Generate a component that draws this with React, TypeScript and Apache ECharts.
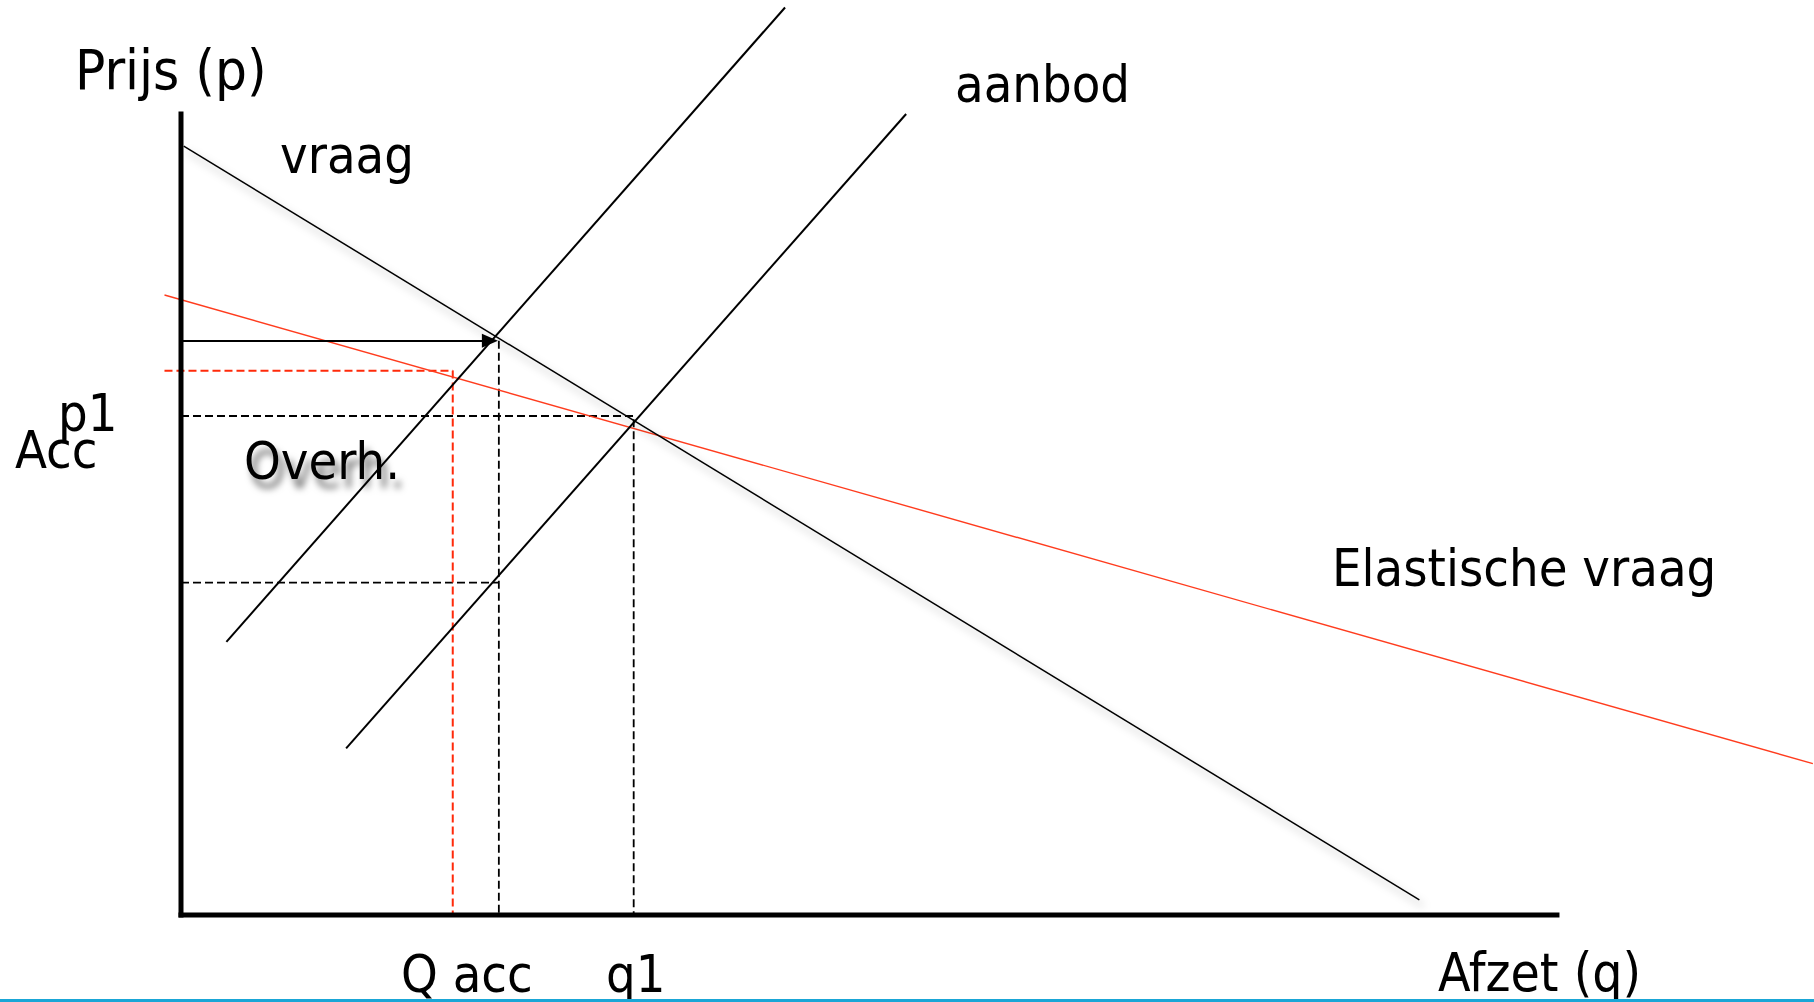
import React, { useEffect, useRef } from "react";
import * as echarts from "echarts";

// ---- Data (quantity q on x, price p on y; axes drawn over 0..100) ----
const vraag: number[][] = [[0.2, 96.0], [90.0, 1.9]];
const elastischeVraag: number[][] = [[-1.2, 77.4], [118.6, 18.9]];
const aanbodMetAcc: number[][] = [[3.3, 34.1], [43.9, 113.3]];
const aanbod: number[][] = [[12.0, 20.8], [52.7, 100.0]];

const q1 = 32.9;
const p1 = 62.3;
const qAcc = 23.1;
const pAcc = 71.7;
const pProducent = 41.5;
const qElastisch = 19.75;
const pElastisch = 67.95;
const roodStart = -1.2;
const pijlEinde = 22.45;

const asLengte = 100;
const axisNames = ["Prijs (p)", "Afzet (q)"];
const xTickLabels = ["Q acc", "q1"];
const yTickLabels = ["p1", "Acc"];
const curveLabels = ["vraag", "aanbod", "Elastische vraag", "Overh."];

const FONT = "'DejaVu Sans Condensed', 'DejaVu Sans', sans-serif";
const FS = 52;

function txt(text: string, x: number, y: number, extra: any = {}) {
  return {
    type: "text",
    x,
    y,
    silent: true,
    style: {
      text,
      fill: "#000",
      fontSize: FS,
      fontFamily: FONT,
      align: "left",
      verticalAlign: "middle",
      ...extra,
    },
  };
}

export default function App() {
  const ref = useRef<HTMLDivElement>(null);
  useEffect(() => {
    if (!ref.current) return;
    const chart = echarts.init(ref.current, undefined, { renderer: "svg" });
    const baseLine = (name: string, data: number[][], style: any, z = 2) => ({
      name,
      type: "line",
      data,
      symbol: "none",
      showSymbol: false,
      clip: false,
      silent: true,
      z,
      lineStyle: style,
    });
    const dash = { type: [8, 4], width: 1.8, color: "#000" };
    const redDash = { type: [8, 4], width: 2, color: "#ff2a0a" };
    const axisStyle = { color: "#000", width: 5, cap: "square" };
    // x: -10..118.68 at 13.76 px/unit => 0 at 181px; y: 0..100 over 801px
    chart.setOption({
      animation: false,
      backgroundColor: "#fff",
      grid: { left: 43.4, top: 114, width: 1770.6, height: 801 },
      xAxis: {
        type: "value",
        min: -10,
        max: 118.68,
        show: false,
      },
      yAxis: {
        type: "value",
        min: 0,
        max: 100,
        show: false,
      },
      series: [
        baseLine("p1 hulplijn", [[0, p1], [q1, p1], [q1, 0]], dash, 1),
        baseLine("producentenprijs", [[0, pProducent], [qAcc, pProducent]], dash, 1),
        {
          ...baseLine("Q acc hulplijn", [[qAcc, pAcc], [qAcc, 0]], dash, 1),
          markLine: {
            silent: true,
            symbol: ["none", "triangle"],
            symbolSize: [14, 16],
            label: { show: false },
            lineStyle: { color: "#000", width: 2, type: "solid" },
            data: [[{ coord: [0, pAcc] }, { coord: [pijlEinde, pAcc] }]],
          },
        },
        baseLine(
          "elastisch hulplijn",
          [[roodStart, pElastisch], [qElastisch, pElastisch], [qElastisch, 0]],
          redDash,
          1
        ),
        baseLine("Elastische vraag", elastischeVraag, { color: "#ff3c1e", width: 1.4 }),
        baseLine("aanbod + acc", aanbodMetAcc, { color: "#000", width: 2 }),
        baseLine("aanbod", aanbod, { color: "#000", width: 2 }),
        baseLine(
          "vraag",
          vraag,
          {
            color: "#000",
            width: 1.5,
            shadowBlur: 8,
            shadowColor: "rgba(0,0,0,0.35)",
            shadowOffsetX: 4,
            shadowOffsetY: 6,
          },
          3
        ),
        baseLine("prijs-as", [[0, 0], [0, asLengte]], axisStyle, 4),
        baseLine("afzet-as", [[0, 0], [asLengte, 0]], axisStyle, 4),
      ],
      graphic: [
        txt(axisNames[0], 75, 69, { fontSize: 56 }),
        txt(axisNames[1], 1438, 972, { fontSize: 53 }),
        txt(xTickLabels[0], 401, 974),
        txt(xTickLabels[1], 606, 974),
        txt(yTickLabels[0], 58, 413),
        txt(yTickLabels[1], 15, 450),
        txt(curveLabels[0], 280, 155),
        txt(curveLabels[1], 955, 84),
        txt(curveLabels[2], 1332, 568),
        txt(curveLabels[3], 244, 461, {
          textShadowColor: "rgba(0,0,0,0.55)",
          textShadowBlur: 7,
          textShadowOffsetX: 5,
          textShadowOffsetY: 9,
        }),
        {
          type: "rect",
          silent: true,
          shape: { x: 0, y: 999, width: 1814, height: 3 },
          style: { fill: "#1aa6d6" },
        },
      ],
    });
    return () => chart.dispose();
  }, []);
  return (
    <div
      ref={ref}
      style={{ position: "fixed", left: 0, top: 0, width: 1814, height: 1002 }}
    />
  );
}
